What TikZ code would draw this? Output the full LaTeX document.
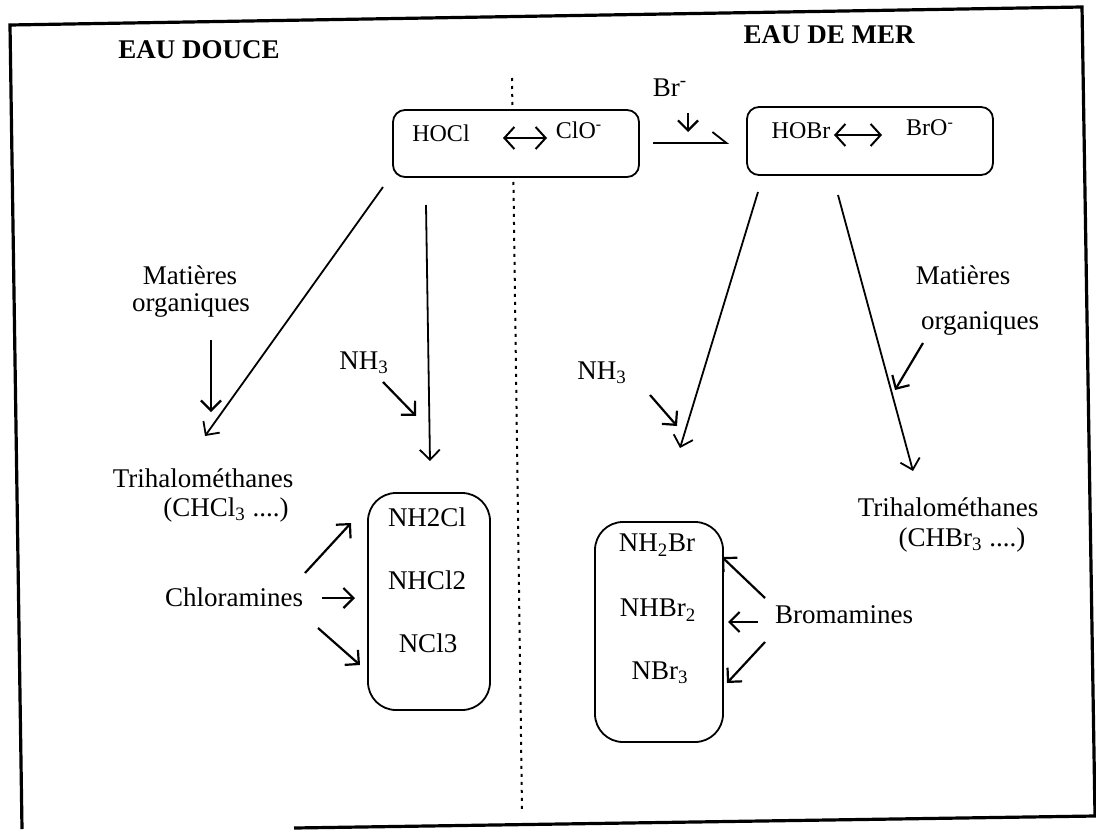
\documentclass[tikz,border=0pt]{standalone}
\usepackage{fontspec}
\setmainfont{Liberation Serif}
\newfontfamily\tnr{Liberation Serif}
\usetikzlibrary{arrows.meta}
\begin{document}
\begin{tikzpicture}[x=0.5pt,y=-0.5pt,
  lbl/.style={inner sep=0pt, font=\tnr\fontsize{13.5}{15}\selectfont},
  slbl/.style={inner sep=0pt, font=\tnr\fontsize{12}{14}\selectfont},
  hdr/.style={inner sep=0pt, font=\tnr\fontsize{13.5}{15}\selectfont\bfseries},
  rbox/.style={draw, line width=0.9pt, rounded corners=#1, fill=white, inner sep=0pt},
  arr/.style={line width=1.1pt, -{Straight Barb[length=5pt,width=10pt]}},
  longarr/.style={line width=0.9pt, -{Straight Barb[length=5pt,width=10pt]}},
  dblarr/.style={line width=1pt, {Straight Barb[length=5pt,width=11pt]}-{Straight Barb[length=5pt,width=11pt]}},
  harp/.style={line width=0.9pt, -{Straight Barb[left,length=7pt,width=11pt]}},
  framel/.style={line width=1.6pt},
  sepline/.style={line width=1pt, dash pattern=on 1.5pt off 2.5pt}
]
\useasboundingbox (0,0) rectangle (1096,829);
% frame
\draw[framel] (294,828) -- (1095,816) -- (1082,7) -- (10,25) -- (22,829);
% separator
\draw[sepline] (512,78) -- (522,810);
% headings
\node[hdr] (hdouce) at (199,50) {EAU DOUCE};
\node[hdr] (hmer) at (829,35) {EAU DE MER};
% top boxes
\node[rbox=6pt, minimum width=123pt, minimum height=33.5pt] (clbox) at (516,143.5) {};
\node[rbox=6pt, minimum width=123pt, minimum height=34pt] (brbox) at (870,141) {};
\node[slbl] (hocl) at (441,133) {HOCl};
\node[slbl] (clo) at (579,130) {ClO\textsuperscript{-}};
\node[slbl] (hobr) at (801,131) {HOBr};
\node[slbl] (bro) at (930,128) {BrO\textsuperscript{-}};
\coordinate (d1a) at (503,138); \coordinate (d1b) at (547,138);
\coordinate (d2a) at (834,135); \coordinate (d2b) at (882,135);
\draw[dblarr] (d1a) -- (d1b);
\draw[dblarr] (d2a) -- (d2b);
% Br-
\node[lbl] (brm) at (670,88) {Br\textsuperscript{-}};
\coordinate (bra) at (688,113); \coordinate (brb) at (688,132);
\draw[arr] (bra) -- (brb);
\coordinate (ha) at (653,143); \coordinate (hb) at (729,143);
\draw[harp] (ha) -- (hb);
% left side labels
\node[lbl] (mat1) at (190,275) {Matières};
\node[lbl] (org1) at (191,305) {organiques};
\node[lbl] (nh3a) at (364,363) {NH\textsubscript{3}};
\node[lbl] (thm1) at (203,478) {Trihalométhanes};
\node[lbl] (chcl) at (226,510) {(CHCl\textsubscript{3} ....)};
\node[lbl] (chlor) at (234,597) {Chloramines};
\node[rbox=14pt, minimum width=61pt, minimum height=108.5pt] (clam) at (429,601.5) {};
\node[lbl] (nh2cl) at (427,517) {NH2Cl};
\node[lbl] (nhcl2) at (427,580) {NHCl2};
\node[lbl] (ncl3) at (428,643) {NCl3};
% right side labels
\node[lbl] (mat2) at (963,275) {Matières};
\node[lbl] (org2) at (980,323) {organiques};
\node[lbl] (nh3b) at (602,373) {NH\textsubscript{3}};
\node[lbl] (thm2) at (948,507) {Trihalométhanes};
\node[lbl] (chbr) at (962,540) {(CHBr\textsubscript{3} ....)};
\node[lbl] (brom) at (844,615) {Bromamines};
\node[rbox=14pt, minimum width=64pt, minimum height=110pt] (bram) at (659,632) {};
\node[lbl] (nh2br) at (657,545) {NH\textsubscript{2}Br};
\node[lbl] (nhbr2) at (658,610) {NHBr\textsubscript{2}};
\node[lbl] (nbr3) at (660,673) {NBr\textsubscript{3}};
% left arrows
\coordinate (l1a) at (383,187); \coordinate (l1b) at (205,436);
\draw[longarr] (l1a) -- (l1b);
\coordinate (l2a) at (426,205); \coordinate (l2b) at (430,461);
\draw[longarr] (l2a) -- (l2b);
\coordinate (l3a) at (211,340); \coordinate (l3b) at (211,412);
\draw[arr] (l3a) -- (l3b);
\coordinate (l4a) at (383,382); \coordinate (l4b) at (416,416);
\draw[arr] (l4a) -- (l4b);
\coordinate (c1a) at (305,573); \coordinate (c1b) at (351,523);
\coordinate (c2a) at (322,598); \coordinate (c2b) at (355,598);
\coordinate (c3a) at (318,628); \coordinate (c3b) at (360,665);
\draw[arr] (c1a) -- (c1b);
\draw[arr] (c2a) -- (c2b);
\draw[arr] (c3a) -- (c3b);
% right arrows
\coordinate (r1a) at (758,192); \coordinate (r1b) at (680,448);
\draw[longarr] (r1a) -- (r1b);
\coordinate (r2a) at (838,195); \coordinate (r2b) at (913,471);
\draw[longarr] (r2a) -- (r2b);
\coordinate (r3a) at (650,395); \coordinate (r3b) at (677,426);
\draw[arr] (r3a) -- (r3b);
\coordinate (r4a) at (923,343); \coordinate (r4b) at (895,390);
\draw[arr] (r4a) -- (r4b);
\coordinate (b1a) at (765,598); \coordinate (b1b) at (722,557);
\coordinate (b2a) at (758,622); \coordinate (b2b) at (728,622);
\coordinate (b3a) at (765,642); \coordinate (b3b) at (727,683);
\draw[arr] (b1a) -- (b1b);
\draw[arr] (b2a) -- (b2b);
\draw[arr] (b3a) -- (b3b);
\end{tikzpicture}
\end{document}
